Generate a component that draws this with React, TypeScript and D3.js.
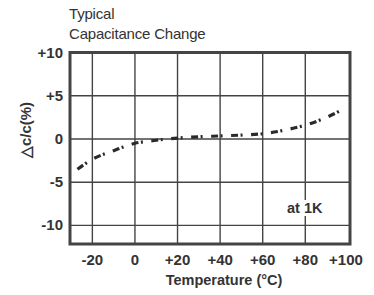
import React from "react";
import * as d3 from "d3";

const xTicks = [-20, 0, 20, 40, 60, 80, 100];
const xTickLabels = ["-20", "0", "+20", "+40", "+60", "+80", "+100"];
const xGrid = [-20, 0, 20, 40, 60, 80];
const yTicks = [10, 5, 0, -5, -10];
const yTickLabels = ["+10", "+5", "0", "-5", "-10"];
const curveTemp = [-27, -20, -10, 0, 10, 20, 30, 40, 50, 60, 70, 80, 90, 99];
const curveDelta = [-3.5, -2.35, -1.35, -0.5, -0.15, 0.1, 0.25, 0.35, 0.45, 0.6, 1.0, 1.6, 2.5, 3.6];

const W = 374;
const H = 295;
const L = 70, R = 350, T = 52.5, B = 244;

export default function App() {
  const x = d3.scaleLinear().domain([-30.5, 101]).range([L, R]);
  const y = d3.scaleLinear().domain([-12.15, 10]).range([B, T]);
  const pts = curveTemp.map((t, i) => [t, curveDelta[i]] as [number, number]);
  const line = d3
    .line<[number, number]>()
    .x((d) => x(d[0]))
    .y((d) => y(d[1]))
    .curve(d3.curveMonotoneX);
  const font = "'Liberation Sans', Arial, sans-serif";
  const col = "#333";
  return (
    <svg
      width={W}
      height={H}
      style={{ position: "absolute", left: 0, top: 0, background: "#fff" }}
      fontFamily={font}
    >
      <rect x={0} y={0} width={W} height={H} fill="#fff" />
      <text x={69} y={19} fontSize={15} fill={col} letterSpacing={-0.2}>Typical</text>
      <text x={69} y={39} fontSize={15} fill={col} letterSpacing={-0.2}>Capacitance Change</text>
      {xGrid.map((t) => (
        <line key={"gx" + t} x1={x(t)} x2={x(t)} y1={T} y2={B} stroke="#444" strokeWidth={1.4} />
      ))}
      {yTicks.map((v) => (
        <line key={"gy" + v} x1={L} x2={R} y1={y(v)} y2={y(v)} stroke="#444" strokeWidth={1.4} />
      ))}
      <rect x={L} y={T} width={R - L} height={B - T} fill="none" stroke="#444" strokeWidth={3} />
      <path
        d={line(pts) || ""}
        fill="none"
        stroke="#2a2a2a"
        strokeWidth={3.2}
        strokeDasharray="7 2.5 2 8.5"
      />
      <rect x={285} y={200} width={44} height={16} fill="#fff" />
      <text x={287} y={213} fontSize={14.5} fontWeight="bold" fill={col}>at 1K</text>
      {yTicks.map((v, i) => (
        <text
          key={"yl" + v}
          x={63}
          y={y(v) + 5}
          fontSize={15}
          fontWeight="bold"
          textAnchor="end"
          fill={col}
        >
          {yTickLabels[i]}
        </text>
      ))}
      {xTicks.map((t, i) => (
        <text
          key={"xl" + t}
          x={i === 6 ? 346 : x(t)}
          y={265}
          fontSize={15}
          fontWeight="bold"
          textAnchor="middle"
          fill={col}
        >
          {xTickLabels[i]}
        </text>
      ))}
      <text x={224} y={285} fontSize={14.5} fontWeight="bold" textAnchor="middle" fill={col}>
        Temperature (°C)
      </text>
      <text
        transform="translate(31,130) rotate(-90)"
        fontSize={15}
        fontWeight="bold"
        textAnchor="middle"
        fill={col}
      >
        △c/c(%)
      </text>
    </svg>
  );
}
